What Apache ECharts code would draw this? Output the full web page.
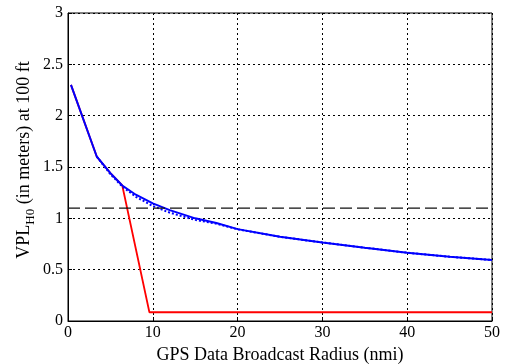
<!DOCTYPE html>
<html>
<head>
<meta charset="utf-8">
<script src="https://cdn.jsdelivr.net/npm/echarts@6/dist/echarts.min.js"></script>
<style>
  html, body { margin: 0; padding: 0; background: #fff; }
  #chart { width: 507px; height: 364px; }
</style>
</head>
<body>
<div id="chart"></div>
<script>
// Broadcast radius (nmi) and protection level (m) at 100 ft
const radiusSolid = [0.35, 3.4, 5, 6.4, 8, 10, 12, 15, 17.5, 20, 25, 30, 35, 40, 45, 50];
const vplSolid    = [2.30, 1.60, 1.44, 1.32, 1.23, 1.146, 1.08, 1.00, 0.955, 0.895, 0.82, 0.765, 0.714, 0.665, 0.626, 0.594];

const radiusDotted = [3.4, 5, 6.4, 8, 10, 12, 15, 17.5, 20, 25, 30, 35, 40, 45, 50];
const vplDotted    = [1.60, 1.43, 1.31, 1.21, 1.12, 1.055, 0.985, 0.948, 0.893, 0.82, 0.765, 0.714, 0.665, 0.626, 0.594];

const radiusRed = [0.35, 3.4, 5, 6.4, 9.6, 50];
const vplRed    = [2.30, 1.60, 1.44, 1.32, 0.085, 0.085];

const thresholdX = [0, 50];
const thresholdY = [1.1, 1.1];

const xTicks = [0, 10, 20, 30, 40, 50];
const yTicks = [0, 0.5, 1, 1.5, 2, 2.5, 3];

const zip = (xs, ys) => xs.map((x, i) => [x, ys[i]]);

const font = 'Liberation Serif';
const chart = echarts.init(document.getElementById('chart'), null, { renderer: 'canvas' });

const gridLine = { show: true, lineStyle: { color: '#000', type: [2, 3], width: 1 } };

chart.setOption({
  animation: false,
  backgroundColor: '#fff',
  grid: {
    left: 68, right: 15, top: 13, bottom: 43,
    outerBoundsMode: 'none', containLabel: false,
    show: true, borderColor: '#000', borderWidth: 1
  },
  xAxis: {
    type: 'value', min: xTicks[0], max: xTicks[xTicks.length - 1], interval: 10,
    axisLine: { show: true, lineStyle: { color: '#000' } },
    axisTick: { show: true, inside: true, length: 4, lineStyle: { color: '#000' } },
    axisLabel: { color: '#000', fontFamily: font, fontSize: 16, margin: 4 },
    splitLine: gridLine,
    name: 'GPS Data Broadcast Radius (nmi)',
    nameLocation: 'middle', nameGap: 24,
    nameTextStyle: { color: '#000', fontFamily: font, fontSize: 18 }
  },
  yAxis: {
    type: 'value', min: yTicks[0], max: yTicks[yTicks.length - 1], interval: 0.5,
    axisLine: { show: true, lineStyle: { color: '#000' } },
    axisTick: { show: true, inside: true, length: 4, lineStyle: { color: '#000' } },
    axisLabel: { color: '#000', fontFamily: font, fontSize: 16, margin: 5,
      formatter: v => String(v) },
    splitLine: gridLine
  },
  graphic: [{
    type: 'text',
    x: 24, y: 160,
    rotation: Math.PI / 2,
    style: {
      text: '{m|VPL}{s|H0}{m| (in meters) at 100 ft}',
      fill: '#000',
      align: 'center',
      verticalAlign: 'middle',
      rich: {
        m: { fontFamily: font, fontSize: 18, fill: '#000', lineHeight: 26, verticalAlign: 'middle' },
        s: { fontFamily: font, fontSize: 13, fill: '#000', lineHeight: 26, verticalAlign: 'bottom' }
      }
    }
  }],
  series: [
    {
      type: 'line', data: zip(radiusRed, vplRed), symbol: 'none', z: 2,
      lineStyle: { color: '#ff0000', width: 1.8 }
    },
    {
      type: 'line', data: zip(radiusDotted, vplDotted), symbol: 'none', z: 3,
      lineStyle: { color: '#0000ff', width: 2, type: 'dotted' }
    },
    {
      type: 'line', data: zip(radiusSolid, vplSolid), symbol: 'none', z: 4,
      lineStyle: { color: '#0000ff', width: 2 }
    },
    {
      type: 'line', data: zip(thresholdX, thresholdY), symbol: 'none', z: 5,
      lineStyle: { color: '#111', width: 1.3, type: [12, 5] }
    }
  ]
});
</script>
</body>
</html>
